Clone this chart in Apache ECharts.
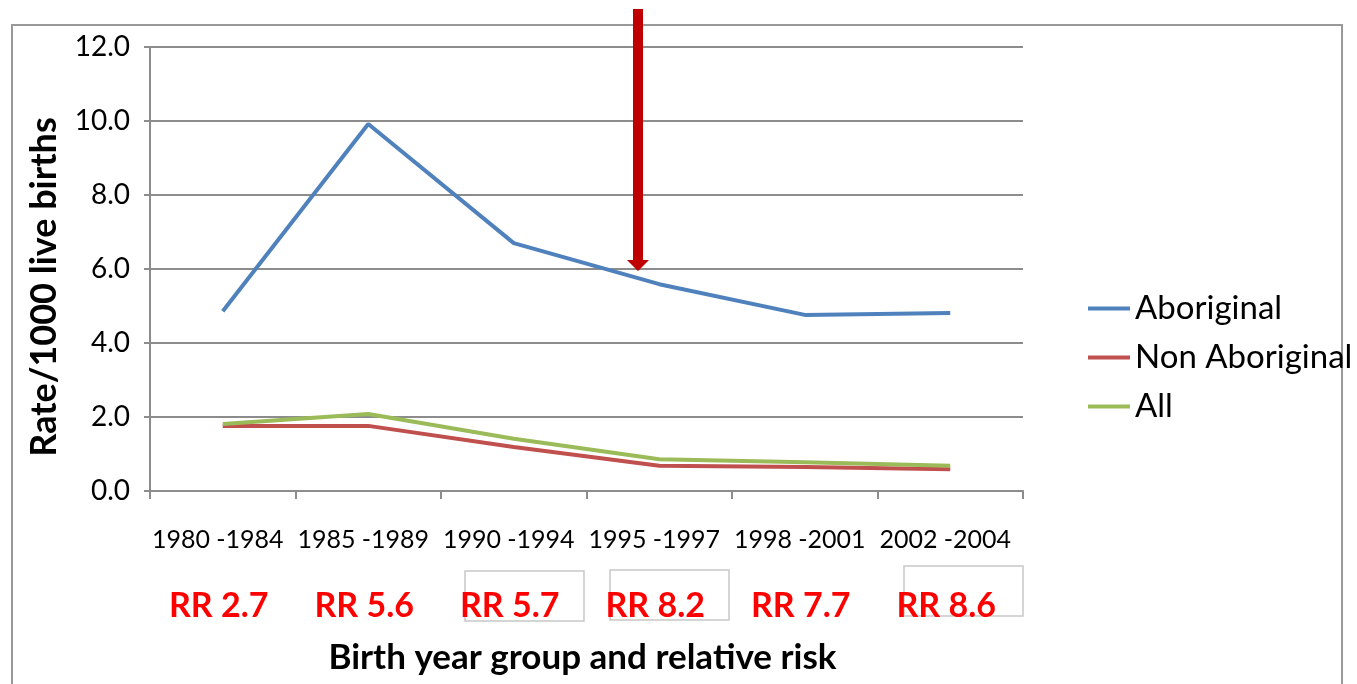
<!DOCTYPE html>
<html><head><meta charset="utf-8">
<script src="https://cdn.jsdelivr.net/npm/echarts@6/dist/echarts.min.js"></script>
<style>html,body{margin:0;padding:0;background:#fff}#c{width:1357px;height:684px}</style>
</head><body><div id="c"></div>
<script>
const categories = ['1980 -1984','1985 -1989','1990 -1994','1995 -1997','1998 -2001','2002 -2004'];
const rrLabels = ['RR 2.7','RR 5.6','RR 5.7','RR 8.2','RR 7.7','RR 8.6'];
const aboriginal = [4.86, 9.92, 6.70, 5.59, 4.76, 4.81];
const nonAboriginal = [1.76, 1.76, 1.19, 0.68, 0.65, 0.59];
const all = [1.81, 2.08, 1.41, 0.86, 0.78, 0.68];
const yTicks = [0, 2, 4, 6, 8, 10, 12];

const F = 'Lato, "Open Sans", sans-serif';
const chart = echarts.init(document.getElementById('c'));
const axisGray = '#8c8c8c';
chart.setOption({
  animation: false,
  backgroundColor: '#fff',
  grid: {left: 150, right: 334, top: 47, bottom: 193, containLabel: false, outerBoundsMode: 'none'},
  legend: {
    orient: 'vertical', left: 1083, top: 284, itemGap: 10, itemWidth: 42, itemHeight: 4,
    icon: 'rect', textStyle: {fontFamily: F, fontSize: 33, lineHeight: 34, color: '#000', padding: [5,0,0,0]},
    data: ['Aboriginal','Non Aboriginal','All']
  },
  xAxis: [{
    type: 'category', data: categories, boundaryGap: true,
    name: 'Birth year group and relative risk', nameLocation: 'middle', nameGap: 149,
    nameTextStyle: {fontFamily: F, fontSize: 35, fontWeight: 'bold', color: '#000', padding: [0, 8, 0, 0]},
    axisLine: {lineStyle: {color: axisGray, width: 2}},
    axisTick: {show: true, length: 8, lineStyle: {color: axisGray, width: 2}},
    axisLabel: {fontFamily: F, fontSize: 25, color: '#000', margin: 36, interval: 0, padding: [0, 10, 0, 0]}
  },{
    type: 'category', data: rrLabels, boundaryGap: true, position: 'bottom',
    axisLine: {show: false}, axisTick: {show: false},
    axisLabel: {fontFamily: F, fontSize: 34, fontWeight: 'bold', color: '#ff0000', margin: 98, interval: 0, padding: [0, 8, 0, 0]}
  }],
  yAxis: {
    type: 'value', min: 0, max: 12, interval: 2,
    name: 'Rate/1000 live births', nameLocation: 'middle', nameGap: 88,
    nameTextStyle: {fontFamily: F, fontSize: 36, fontWeight: 'bold', color: '#000', padding: [0, 36, 0, 0]},
    axisLine: {show: true, lineStyle: {color: axisGray, width: 2}},
    axisTick: {show: true, length: 6, lineStyle: {color: axisGray, width: 2}},
    splitLine: {lineStyle: {color: axisGray, width: 2}},
    axisLabel: {fontFamily: F, fontSize: 28, color: '#000', margin: 20,
      formatter: v => yTicks.includes(v) ? v.toFixed(1) : ''}
  },
  series: [
    {name: 'Aboriginal', type: 'line', data: aboriginal, symbol: 'none', lineStyle: {width: 4, color: '#4F81BD'}, itemStyle: {color: '#4F81BD'}},
    {name: 'Non Aboriginal', type: 'line', data: nonAboriginal, symbol: 'none', lineStyle: {width: 4, color: '#C0504D'}, itemStyle: {color: '#C0504D'}},
    {name: 'All', type: 'line', data: all, symbol: 'none', lineStyle: {width: 4, color: '#9BBB59'}, itemStyle: {color: '#9BBB59'}}
  ],
  graphic: [
    {type: 'rect', shape: {x: 12, y: 25, width: 1330, height: 700}, style: {fill: 'none', stroke: '#999', lineWidth: 2}, z: 0},
    {type: 'rect', shape: {x: 465, y: 571, width: 119, height: 50}, style: {fill: 'none', stroke: '#c8c8c8', lineWidth: 1.5}, z: 0},
    {type: 'rect', shape: {x: 610, y: 570, width: 119, height: 50}, style: {fill: 'none', stroke: '#c8c8c8', lineWidth: 1.5}, z: 0},
    {type: 'rect', shape: {x: 904, y: 566, width: 119, height: 50}, style: {fill: 'none', stroke: '#c8c8c8', lineWidth: 1.5}, z: 0},
    {type: 'polygon', shape: {points: [[633,9],[643,9],[643,260],[649,260],[638,271],[627,260],[633,260]]},
     style: {fill: '#C00000'}, z: 100}
  ]
});
</script></body></html>
